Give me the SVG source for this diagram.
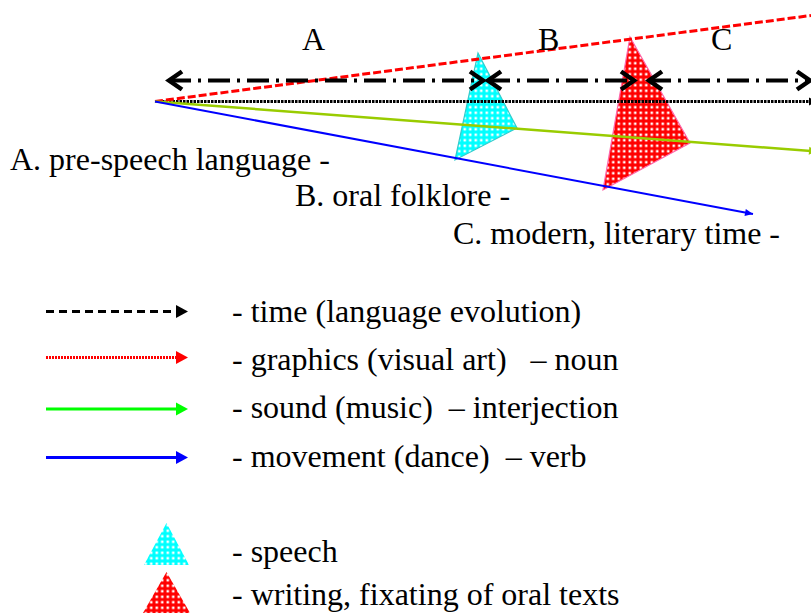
<svg xmlns="http://www.w3.org/2000/svg" width="811" height="613" viewBox="0 0 811 613">
<style>
.dd{stroke:#000;stroke-width:4;fill:none;stroke-dasharray:22 7 3 7}
.time{stroke:#000;stroke-width:3;stroke-dasharray:2.5 1;fill:none}
.gfx{stroke:#ff0000;stroke-width:3;stroke-dasharray:8 3;fill:none}
.snd{stroke:#99cc00;stroke-width:2.5;fill:none}
.mov{stroke:#0000ff;stroke-width:2;fill:none}
.lg-time{stroke:#000;stroke-width:3;stroke-dasharray:8 5;fill:none}
.lg-gfx{stroke:#ff0000;stroke-width:3;stroke-dasharray:2 1;fill:none}
.lg-snd{stroke:#00ff00;stroke-width:3;fill:none}
.lg-mov{stroke:#0000ff;stroke-width:3;fill:none}
</style>
<defs>
<pattern id="pc" width="5.5" height="5.5" patternUnits="userSpaceOnUse"><rect width="5.5" height="5.5" fill="#00ffff"/><rect x="1.5" y="1.5" width="2.5" height="2.5" fill="#fff"/></pattern>
<pattern id="pr" width="5.5" height="5.5" patternUnits="userSpaceOnUse"><rect width="5.5" height="5.5" fill="#ff0000"/><rect x="1.5" y="1.5" width="2.5" height="2.5" fill="#fff"/></pattern>
<marker id="chev" markerUnits="userSpaceOnUse" markerWidth="30" markerHeight="30" viewBox="-20 -15 30 30" refX="0" refY="0" orient="auto-start-reverse" overflow="visible"><path d="M-13,-9 L0,0 L-13,9" fill="none" stroke="#000" stroke-width="4.5" stroke-linejoin="miter"/></marker>
<marker id="ak" markerUnits="userSpaceOnUse" markerWidth="14" markerHeight="14" viewBox="0 -7 14 14" refX="1" refY="0" orient="auto" overflow="visible"><path d="M0,-6.5 L12,0 L0,6.5z" fill="#000"/></marker>
<marker id="ar" markerUnits="userSpaceOnUse" markerWidth="14" markerHeight="14" viewBox="0 -7 14 14" refX="1" refY="0" orient="auto" overflow="visible"><path d="M0,-6.5 L12,0 L0,6.5z" fill="#ff0000"/></marker>
<marker id="ag" markerUnits="userSpaceOnUse" markerWidth="14" markerHeight="14" viewBox="0 -7 14 14" refX="1" refY="0" orient="auto" overflow="visible"><path d="M0,-6.5 L12,0 L0,6.5z" fill="#00ff00"/></marker>
<marker id="ab" markerUnits="userSpaceOnUse" markerWidth="14" markerHeight="14" viewBox="0 -7 14 14" refX="1" refY="0" orient="auto" overflow="visible"><path d="M0,-6.5 L12,0 L0,6.5z" fill="#0000ff"/></marker>
<marker id="ayg" markerUnits="userSpaceOnUse" markerWidth="14" markerHeight="14" viewBox="0 -7 14 14" refX="8" refY="0" orient="auto" overflow="visible"><path d="M0,-4 L8,0 L0,4z" fill="#99cc00"/></marker>
<marker id="ablue" markerUnits="userSpaceOnUse" markerWidth="14" markerHeight="14" viewBox="0 -7 14 14" refX="8" refY="0" orient="auto" overflow="visible"><path d="M0,-3.5 L8,0 L0,3.5z" fill="#0000ff"/></marker>
<marker id="ablk" markerUnits="userSpaceOnUse" markerWidth="14" markerHeight="14" viewBox="0 -7 14 14" refX="8" refY="0" orient="auto" overflow="visible"><path d="M0,-4 L8,0 L0,4z" fill="#000"/></marker>
</defs>

<g id="speech-triangle"><polygon points="478,53 517,128 455,160" fill="url(#pc)" stroke="#33cccc" stroke-width="1.2"/></g>
<g id="writing-triangle"><polygon points="630,37 690,143 603,190" fill="url(#pr)" stroke="#ff66aa" stroke-width="1.2"/></g>

<g id="connectors">
<line class="time" x1="155" y1="101.5" x2="817" y2="101.5" marker-end="url(#ablk)"/>
<line class="gfx" x1="155" y1="101.5" x2="811" y2="15.5"/>
<line class="snd" x1="155" y1="101.5" x2="817" y2="151.4" marker-end="url(#ayg)"/>
<line class="mov" x1="155" y1="101.5" x2="753" y2="214" marker-end="url(#ablue)"/>
<line class="dd" x1="169" y1="80.5" x2="483" y2="80.5" marker-start="url(#chev)" marker-end="url(#chev)"/>
<line class="dd" x1="488" y1="80.5" x2="634" y2="80.5" marker-start="url(#chev)" marker-end="url(#chev)"/>
<line class="dd" x1="649" y1="80.5" x2="810" y2="80.5" marker-start="url(#chev)" marker-end="url(#chev)"/>
</g>

<g id="period-labels">
<text x="302" y="50" font-size="32" font-family="Liberation Serif">A</text>
<text x="538" y="50" font-size="32" font-family="Liberation Serif">B</text>
<text x="711" y="50" font-size="32" font-family="Liberation Serif">C</text>
</g>

<g id="stage-labels">
<text x="10" y="170" font-size="32" font-family="Liberation Serif">A. pre-speech language -</text>
<text x="295" y="206" font-size="32" font-family="Liberation Serif">B. oral folklore -</text>
<text x="453" y="244" font-size="32" font-family="Liberation Serif">C. modern, literary time -</text>
</g>

<g id="legend">
<line class="lg-time" x1="46" y1="311.5" x2="177" y2="311.5" marker-end="url(#ak)"/>
<line class="lg-gfx" x1="46" y1="357.5" x2="177" y2="357.5" marker-end="url(#ar)"/>
<line class="lg-snd" x1="46" y1="409" x2="177" y2="409" marker-end="url(#ag)"/>
<line class="lg-mov" x1="46" y1="457.5" x2="177" y2="457.5" marker-end="url(#ab)"/>
<text x="232" y="322" font-size="32" font-family="Liberation Serif">- time (language evolution)</text>
<text x="232" y="370" font-size="32" font-family="Liberation Serif" xml:space="preserve">- graphics (visual art)   – noun</text>
<text x="232" y="418" font-size="32" font-family="Liberation Serif" xml:space="preserve">- sound (music)  – interjection</text>
<text x="232" y="467" font-size="32" font-family="Liberation Serif" xml:space="preserve">- movement (dance)  – verb</text>
<polygon points="166.5,523 189,565 144,565" fill="url(#pc)"/>
<polygon points="166.5,572 190,613 143,613" fill="url(#pr)"/>
<text x="232" y="562" font-size="32" font-family="Liberation Serif">- speech</text>
<text x="232" y="605" font-size="32" font-family="Liberation Serif">- writing, fixating of oral texts</text>
</g>
</svg>
